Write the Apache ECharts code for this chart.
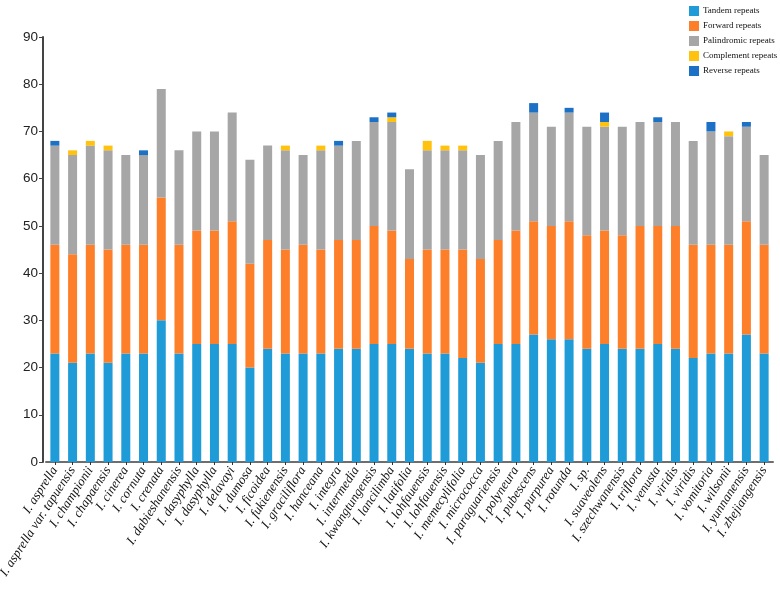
<!DOCTYPE html>
<html>
<head>
<meta charset="utf-8">
<script src="https://cdn.jsdelivr.net/npm/echarts@6/dist/echarts.min.js"></script>
<style>html,body{margin:0;padding:0;background:#fff;}#c{width:780px;height:590px;}</style>
</head>
<body>
<div id="c"></div>
<script>
var categories = ["I. asprella","I. asprella var. tapuensis","I. championii","I. chapaensis","I. cinerea","I. cornuta","I. crenata","I. dabieshanensis","I. dasyphylla","I. dasyphylla","I. delavayi","I. dumosa","I. ficoidea","I. fukienensis","I. graciliflora","I. hanceana","I. integra","I. intermedia","I. kwangtungensis","I. lancilimba","I. latifolia","I. lohfauensis","I. lohfauensis","I. memecylifolia","I. micrococca","I. paraguariensis","I. polyneura","I. pubescens","I. purpurea","I. rotunda","I. sp.","I. suaveolens","I. szechwanensis","I. triflora","I. venusta","I. viridis","I. viridis","I. vomitoria","I. wilsonii","I. yunnanensis","I. zhejiangensis"];
var tandem = [23,21,23,21,23,23,30,23,25,25,25,20,24,23,23,23,24,24,25,25,24,23,23,22,21,25,25,27,26,26,24,25,24,24,25,24,22,23,23,27,23];
var forward = [23,23,23,24,23,23,26,23,24,24,26,22,23,22,23,22,23,23,25,24,19,22,22,23,22,22,24,24,24,25,24,24,24,26,25,26,24,23,23,24,23];
var palindromic = [21,21,21,21,19,19,23,20,21,21,23,22,20,21,19,21,20,21,22,23,19,21,21,21,22,21,23,23,21,23,23,22,23,22,22,22,22,24,23,20,19];
var complement = [0,1,1,1,0,0,0,0,0,0,0,0,0,1,0,1,0,0,0,1,0,2,1,1,0,0,0,0,0,0,0,1,0,0,0,0,0,0,1,0,0];
var reverse = [1,0,0,0,0,1,0,0,0,0,0,0,0,0,0,0,1,0,1,1,0,0,0,0,0,0,0,2,0,1,0,2,0,0,1,0,0,2,0,1,0];
var yTicks = [0,10,20,30,40,50,60,70,80,90];

var seriesDefs = [
  {name:"Tandem repeats", data:tandem, color:"#1f9bd7"},
  {name:"Forward repeats", data:forward, color:"#fe7f2a"},
  {name:"Palindromic repeats", data:palindromic, color:"#a6a6a6"},
  {name:"Complement repeats", data:complement, color:"#ffc20e"},
  {name:"Reverse repeats", data:reverse, color:"#1c70c6"}
];

var chart = echarts.init(document.getElementById('c'), null, {renderer:'canvas'});
chart.setOption({
  animation:false,
  backgroundColor:'#fff',
  legend:{
    orient:'vertical', left:689, top:6,
    itemWidth:10, itemHeight:10, itemGap:5,
    icon:'rect', padding:0,
    textStyle:{fontFamily:'Liberation Serif', fontSize:9, color:'#111', padding:[0,0,0,-1]},
    data:seriesDefs.map(function(s){return s.name;})
  },
  grid:{left:46, right:7, top:37, bottom:128, containLabel:false, outerBoundsMode:'none'},
  xAxis:{
    type:'category', data:categories,
    axisLine:{lineStyle:{color:'#6e6e6e', width:2}},
    axisTick:{show:true, alignWithLabel:true, length:3, lineStyle:{color:'#333'}},
    axisLabel:{interval:0, rotate:57, fontFamily:'Liberation Serif', fontStyle:'italic', fontSize:13, color:'#111', margin:6}
  },
  yAxis:{
    type:'value', min:yTicks[0], max:yTicks[yTicks.length-1], interval:10, offset:3,
    axisLine:{show:true, lineStyle:{color:'#444', width:2}},
    axisTick:{show:true, inside:false, length:4, lineStyle:{color:'#444'}},
    splitLine:{show:false},
    axisLabel:{fontFamily:'Liberation Sans', fontSize:13.5, color:'#222', margin:5}
  },
  series:seriesDefs.map(function(s){
    return {name:s.name, type:'bar', stack:'total', barWidth:9, data:s.data,
      itemStyle:{color:s.color}};
  })
});
</script>
</body>
</html>
